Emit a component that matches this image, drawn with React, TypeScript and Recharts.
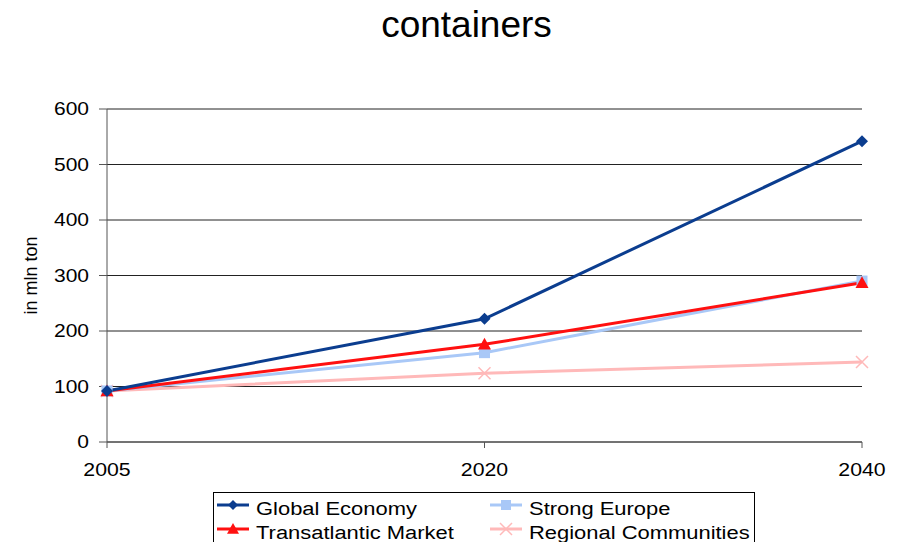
import React from "react";
import { LineChart, Line, XAxis, YAxis, CartesianGrid, Label } from "recharts";

const years = ["2005", "2020", "2040"];
const globalEconomy = [92, 222, 542];
const strongEurope = [92, 161, 290];
const transatlanticMarket = [92, 176, 287];
const regionalCommunities = [92, 124, 144];
const yTicks = [0, 100, 200, 300, 400, 500, 600];

const data = years.map((year, i) => ({
  year,
  global: globalEconomy[i],
  europe: strongEurope[i],
  transatlantic: transatlanticMarket[i],
  regional: regionalCommunities[i],
}));

const FONT = "'Liberation Sans', Arial, sans-serif";

const NAVY = "#0b3d8f";
const LIGHT_BLUE = "#a9c8f7";
const RED = "#ff1010";
const PINK = "#ffb9b9";

// the source image is stretched sideways, so text is widened a bit
const STRETCH = 1.18;

function Diamond(props: any) {
  const { cx, cy, fill, size = 6 } = props;
  if (cx == null || cy == null) return null;
  return <path d={`M${cx},${cy - size} L${cx + size},${cy} L${cx},${cy + size} L${cx - size},${cy} Z`} fill={fill} />;
}

function Square(props: any) {
  const { cx, cy, fill, size = 5.5 } = props;
  if (cx == null || cy == null) return null;
  return <rect x={cx - size} y={cy - size} width={size * 2} height={size * 2} fill={fill} />;
}

function Triangle(props: any) {
  const { cx, cy, fill, size = 6.5 } = props;
  if (cx == null || cy == null) return null;
  return <path d={`M${cx},${cy - size} L${cx + size},${cy + size * 0.8} L${cx - size},${cy + size * 0.8} Z`} fill={fill} />;
}

function Cross(props: any) {
  const { cx, cy, stroke, size = 6 } = props;
  if (cx == null || cy == null) return null;
  return (
    <path d={`M${cx - size},${cy - size} L${cx + size},${cy + size} M${cx + size},${cy - size} L${cx - size},${cy + size}`} stroke={stroke} strokeWidth={1.5} fill="none" />
  );
}

function YTick({ x, y, payload }: any) {
  return (
    <text transform={`translate(${x},${y + 6.3}) scale(1.2,1)`} textAnchor="end" fontSize={17.5} fontFamily={FONT} fill="#000">
      {payload.value}
    </text>
  );
}

function XTick({ x, y, payload }: any) {
  return (
    <text transform={`translate(${x},${y + 28}) scale(1.12,1)`} textAnchor="middle" fontSize={19} fontFamily={FONT} fill="#000">
      {payload.value}
    </text>
  );
}

function LegendEntry({ x, y, color, marker, label }: any) {
  return (
    <g>
      <line x1={x} y1={y} x2={x + 32} y2={y} stroke={color} strokeWidth={3} />
      {marker}
      <text transform={`translate(${x + 39},${y + 9.5}) scale(${STRETCH},1)`} fontSize={18.6} fontFamily={FONT} fill="#000">
        {label}
      </text>
    </g>
  );
}

export default function App() {
  return (
    <div style={{ position: "fixed", left: 0, top: 0, width: 899, height: 542, background: "#fff", overflow: "hidden" }}>
      <LineChart width={899} height={542} data={data} margin={{ top: 109, right: 37, left: 47, bottom: 46 }}>
        <CartesianGrid horizontal vertical={false} stroke="#222" strokeWidth={1} />
        <XAxis
          dataKey="year"
          axisLine={{ stroke: "#555" }}
          tickLine={{ stroke: "#555" }}
          tickSize={6}
          tick={<XTick />}
          tickMargin={0}
          height={54}
        />
        <YAxis
          domain={[0, 600]}
          ticks={yTicks}
          axisLine={{ stroke: "#555" }}
          tickLine={{ stroke: "#555" }}
          tickSize={8}
          tick={<YTick />}
          tickMargin={10}
          width={60}
        >
          <Label value="in mln ton" angle={-90} position="insideLeft" offset={-16} style={{ fontSize: 18, fill: "#000", fontFamily: FONT, textAnchor: "middle" }} />
        </YAxis>
        <Line type="linear" dataKey="regional" stroke={PINK} strokeWidth={3} dot={<Cross stroke={PINK} />} isAnimationActive={false} />
        <Line type="linear" dataKey="europe" stroke={LIGHT_BLUE} strokeWidth={3} dot={<Square fill={LIGHT_BLUE} />} isAnimationActive={false} />
        <Line type="linear" dataKey="transatlantic" stroke={RED} strokeWidth={3} dot={<Triangle fill={RED} />} isAnimationActive={false} />
        <Line type="linear" dataKey="global" stroke={NAVY} strokeWidth={3} dot={<Diamond fill={NAVY} />} isAnimationActive={false} />
      </LineChart>
      <svg width={899} height={542} style={{ position: "absolute", left: 0, top: 0, pointerEvents: "none" }}>
        <text x={466.5} y={37} textAnchor="middle" fontSize={37} fontFamily={FONT} fill="#000">
          containers
        </text>
        <rect x={213.5} y={492.5} width={541} height={60} fill="none" stroke="#000" strokeWidth={1} />
        <LegendEntry x={217} y={505} color={NAVY} label="Global Economy" marker={<Diamond cx={233} cy={505} fill={NAVY} size={5} />} />
        <LegendEntry x={490} y={505} color={LIGHT_BLUE} label="Strong Europe" marker={<Square cx={506} cy={505} fill={LIGHT_BLUE} size={5} />} />
        <LegendEntry x={217} y={529} color={RED} label="Transatlantic Market" marker={<Triangle cx={233} cy={529} fill={RED} size={6} />} />
        <LegendEntry x={490} y={529} color={PINK} label="Regional Communities" marker={<Cross cx={506} cy={529} stroke={PINK} size={6} />} />
      </svg>
    </div>
  );
}
